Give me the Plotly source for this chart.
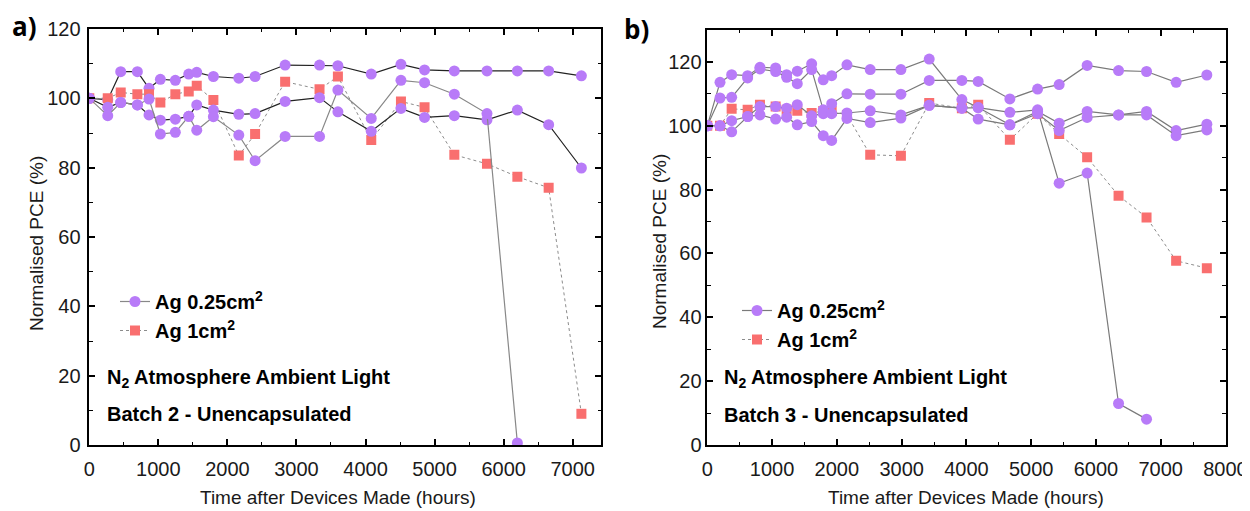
import plotly.graph_objects as go

# panel a) batch 2
time_a = [0, 267, 455, 696, 865, 1029, 1246, 1440, 1556, 1797, 2165, 2401, 2836,
          3334, 3600, 4083, 4513, 4855, 5286, 5759, 6199, 6652, 7126]
a_dev1 = [100, 99.6, 107.7, 107.7, 102.9, 105.5, 105.2, 107.0, 107.5, 106.3, 105.8, 106.3, 109.6,
          109.6, 109.4, 107.0, 109.8, 108.2, 107.9, 107.9, 107.9, 107.9, 106.5]
a_dev2 = [100, 97.4, 98.8, 98.1, 95.2, 93.7, 94.0, 94.8, 98.1, 96.6, 95.4, 95.6, 99.1,
          100.2, 96.1, 90.5, 97.1, 94.5, 95.0, 93.8, 96.6, 92.4, 79.9]
a_dev3 = [100, 95.0, 98.8, 98.1, 99.8, 89.7, 90.2, 94.8, 90.8, 94.7, 89.4, 82.0, 89.0,
          89.0, 102.4, 94.2, 105.2, 104.5, 101.2, 95.6, 0.6]
a_1cm = [100, 100, 101.7, 101.2, 101.2, 98.8, 101.2, 102.0, 103.6, 99.5, 83.5, 89.7, 104.8,
         102.6, 106.3, 88.0, 99.1, 97.4, 83.7, 81.1, 77.4, 74.2, 9.0]

# panel b) batch 3
time_b = [0, 196, 376, 623, 813, 1055, 1225, 1389, 1611, 1790, 1920, 2156, 2515,
          2989, 3426, 3930, 4182, 4671, 5099, 5432, 5864, 6349, 6781, 7238, 7712]
b_dev1 = [100, 113.6, 116, 115.7, 118.3, 118.1, 116, 117.1, 119.4, 114.4, 115.7, 119.1, 117.6,
          117.6, 120.9, 108.2, 105.7, 104.2, 105, 82, 85.2, 13, 8.1]
b_dev2 = [100, 108.7, 108.9, 115, 117.8, 117, 115.2, 113.2, 117.6, 105, 106.9, 110, 109.9,
          109.9, 114.2, 114.2, 113.9, 108.4, 111.5, 112.9, 118.9, 117.3, 117, 113.6, 115.9]
b_dev3 = [100, 100, 101.6, 102.9, 106, 106, 105.5, 106.6, 103.1, 103.8, 103.8, 104, 104.7,
          103.4, 106.4, 105.5, 105.7, 100.3, 104.5, 100.8, 104.5, 103.4, 104.5, 98.5, 100.5]
b_dev4 = [100, 100, 98.1, 102.9, 103.4, 102.1, 102.7, 100.3, 101.3, 96.9, 95.4, 102.3, 101,
          102.4, 106.4, 105.5, 102.1, 100.3, 103.8, 98.5, 102.6, 103.4, 103.4, 96.9, 98.7]
b_1cm = [100, 100, 105.3, 105, 106.6, 106, 105, 104.7, 104, 104.6, 104.6, 103.4, 90.9,
         90.6, 107.1, 105.5, 106.6, 95.6, 103.8, 97.4, 90.1, 78.1, 71.3, 57.7, 55.4]

name_small = 'Ag 0.25cm<sup>2</sup>'
name_big = 'Ag 1cm<sup>2</sup>'

W, H = 1250, 511
OFF = 8  # page body margin
PURPLE = '#B87BF8'
RED = '#F96F6F'


def px(p):
	return (p - OFF) / W


def py(p):
	return 1 - (p - OFF) / H


def purple(x, y, xa, ya, line_col, legend=None):
	return go.Scatter(x=x, y=y, xaxis=xa, yaxis=ya, mode='lines+markers', name=name_small,
		line=dict(color=line_col, width=1.2),
		marker=dict(symbol='circle', size=11, color=PURPLE, line=dict(width=0)),
		showlegend=legend is not None, legend=legend or 'legend', legendrank=1)


def red(x, y, xa, ya, legend):
	return go.Scatter(x=x, y=y, xaxis=xa, yaxis=ya, mode='lines+markers', name=name_big,
		line=dict(color='#8c8c8c', width=1, dash='dot'),
		marker=dict(symbol='square', size=10, color=RED, line=dict(width=0)),
		showlegend=True, legend=legend, legendrank=2)


fig = go.Figure()

fig.add_trace(purple(time_a, a_dev1, 'x', 'y', '#222222'))
fig.add_trace(red(time_a, a_1cm, 'x', 'y', 'legend'))
fig.add_trace(purple(time_a, a_dev2, 'x', 'y', '#222222'))
fig.add_trace(purple(time_a[:len(a_dev3)], a_dev3, 'x', 'y', '#888888', legend='legend'))

fig.add_trace(red(time_b, b_1cm, 'x2', 'y2', 'legend2'))
fig.add_trace(purple(time_b[:len(b_dev1)], b_dev1, 'x2', 'y2', '#7a7a7a', legend='legend2'))
fig.add_trace(purple(time_b, b_dev2, 'x2', 'y2', '#7a7a7a'))
fig.add_trace(purple(time_b, b_dev3, 'x2', 'y2', '#7a7a7a'))
fig.add_trace(purple(time_b, b_dev4, 'x2', 'y2', '#7a7a7a'))

tick_font = dict(family='Liberation Sans, Arial', size=20, color='#1a1a1a')
ax_common = dict(showline=True, linecolor='black', linewidth=1.5, mirror='ticks',
	ticks='inside', ticklen=6, tickwidth=1.5, tickcolor='black', showgrid=False,
	zeroline=False, tickfont=tick_font, fixedrange=True, automargin=False)
minor_x = dict(dtick=500, ticks='inside', ticklen=3.5, tickwidth=1.2, tickcolor='black')
minor_y = dict(dtick=10, ticks='inside', ticklen=3.5, tickwidth=1.2, tickcolor='black')

fig.update_layout(
	width=W, height=H,
	margin=dict(l=0, r=0, t=0, b=0, autoexpand=False),
	paper_bgcolor='white', plot_bgcolor='white',
	font=dict(family='Liberation Sans, Arial', color='black'),
	xaxis=dict(domain=[px(89.3), px(601)], range=[0, 7410], dtick=1000, anchor='y',
		minor=minor_x, ticklabelstandoff=5, **ax_common),
	yaxis=dict(domain=[py(445), py(29)], range=[0, 120], dtick=20, anchor='x',
		minor=minor_y, ticklabelstandoff=3, **ax_common),
	xaxis2=dict(domain=[px(707.3), px(1225.5)], range=[0, 8000], dtick=1000, anchor='y2',
		minor=minor_x, ticklabelstandoff=5, **ax_common),
	yaxis2=dict(domain=[py(445), py(30)], range=[0, 130], dtick=20, anchor='x2',
		minor=minor_y, ticklabelstandoff=0, **ax_common),
	legend=dict(x=px(115), y=py(282), xanchor='left', yanchor='top', bgcolor='rgba(0,0,0,0)',
		font=dict(size=20, weight='bold', color='black'), traceorder='normal'),
	legend2=dict(x=px(737), y=py(291), xanchor='left', yanchor='top', bgcolor='rgba(0,0,0,0)',
		font=dict(size=20, weight='bold', color='black'), traceorder='normal'),
)

bold = dict(family='Liberation Sans, Arial', size=20, color='black', weight='bold')
ann = [
	('N<sub>2</sub> Atmosphere Ambient Light', 105, 378),
	('Batch 2 - Unencapsulated', 105, 414),
	('N<sub>2</sub> Atmosphere Ambient Light', 722, 378),
	('Batch 3 - Unencapsulated', 722, 415),
]
for text, x, y in ann:
	fig.add_annotation(text=text, x=px(x), y=py(y), xref='paper', yref='paper',
		xanchor='left', yanchor='middle', showarrow=False, font=bold)

title_font = dict(family='Liberation Sans, Arial', size=19, color='#1a1a1a')
for x, y in [(338, 497), (966, 497)]:
	fig.add_annotation(text='Time after Devices Made (hours)', x=px(x), y=py(y),
		xref='paper', yref='paper', xanchor='center', yanchor='middle',
		showarrow=False, font=title_font)
for x, y in [(36, 244), (660, 241)]:
	fig.add_annotation(text='Normalised PCE (%)', x=px(x), y=py(y), textangle=-90,
		xref='paper', yref='paper', xanchor='center', yanchor='middle',
		showarrow=False, font=title_font)

panel_font = dict(family='Open Sans, Noto Sans', size=26, color='black', weight='bold')
fig.add_annotation(text='a)', x=px(24), y=py(26), xref='paper', yref='paper',
	xanchor='center', yanchor='middle', showarrow=False, font=panel_font)
fig.add_annotation(text='b)', x=px(636), y=py(29), xref='paper', yref='paper',
	xanchor='center', yanchor='middle', showarrow=False, font=panel_font)

fig.write_html("out.html")
